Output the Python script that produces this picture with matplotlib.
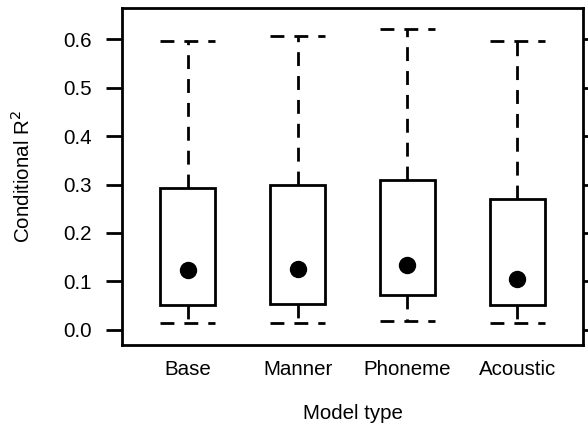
import matplotlib
matplotlib.use("Agg")
import matplotlib.pyplot as plt
import numpy as np

# Valores (R^2 condicional por tipo de modelo)
modelos = ['Base', 'Manner', 'Phoneme', 'Acoustic']
bigote_inf = [0.014, 0.015, 0.0185, 0.014]
q1 = [0.052, 0.054, 0.072, 0.051]
mediana = [0.124, 0.125, 0.135, 0.105]
q3 = [0.293, 0.298, 0.310, 0.271]
bigote_sup = [0.596, 0.607, 0.621, 0.596]
y_ticks = [0.0, 0.1, 0.2, 0.3, 0.4, 0.5, 0.6]

plt.rcParams['font.family'] = ['Liberation Sans', 'DejaVu Sans']
plt.rcParams['font.size'] = 14.8

fig = plt.figure(figsize=(5.88, 4.30), dpi=100)
ax = fig.add_axes([122/588, 1 - 345/430, 461/588, 337/430])

x = np.arange(1, len(modelos) + 1)
ancho = 0.5
lw = 2.0
guiones = (5.0, 3.6)

# Cajas
ax.bar(x, np.array(q3) - np.array(q1), ancho, bottom=q1, facecolor='white',
       edgecolor='black', linewidth=lw, zorder=2)

for i in range(len(modelos)):
    # bigotes desde la caja hacia afuera
    ax.plot([x[i], x[i]], [q3[i], bigote_sup[i]], color='black', lw=lw,
            dashes=guiones, dash_capstyle='butt', zorder=1)
    ax.plot([x[i], x[i]], [q1[i], bigote_inf[i]], color='black', lw=lw,
            dashes=guiones, dash_capstyle='butt', zorder=1)
    # topes
    for y in (bigote_sup[i], bigote_inf[i]):
        ax.plot([x[i] - ancho/2, x[i] + ancho/2], [y, y], color='black', lw=lw,
                dashes=guiones, dash_capstyle='butt', zorder=1)

ax.plot(x, mediana, 'o', color='black', markersize=11.5, zorder=3)

ax.set_xlim(0.4, 4.6)
ax.set_ylim(-0.031, 0.664)
ax.set_xticks(x)
ax.set_xticklabels(modelos)
ax.set_yticks(y_ticks)
ax.set_yticklabels(['%.1f' % v for v in y_ticks])

ax.tick_params(axis='x', length=0, pad=11)
ax.tick_params(axis='y', direction='out', length=11.5, width=lw, pad=10,
               right=True, labelright=False)

for s in ax.spines.values():
    s.set_linewidth(2.0)

ax.set_ylabel('Conditional R$^2$')
ax.yaxis.set_label_coords(-0.19, 0.5)
ax.set_xlabel('Model type')
ax.xaxis.set_label_coords(0.5, -0.175)

fig.savefig('out.png', dpi=100)
